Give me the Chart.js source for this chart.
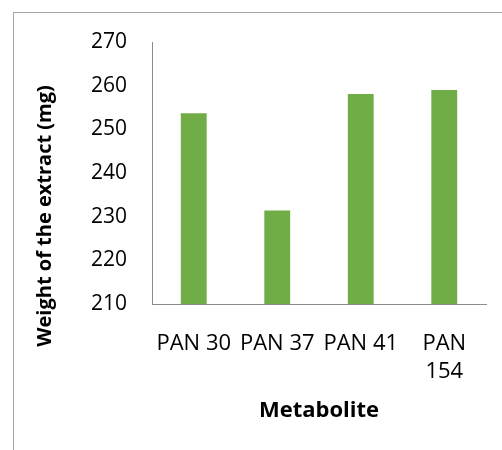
<!DOCTYPE html>
<html>
<head>
<meta charset="utf-8">
<script src="https://cdn.jsdelivr.net/npm/chart.js@4"></script>
<style>
  html, body { margin: 0; padding: 0; background: #fff; }
  #wrap { position: relative; width: 502px; height: 450px; overflow: hidden; }
  #frame { position: absolute; left: 13px; top: 12px; width: 600px; height: 600px;
           border-left: 1px solid #a6a6a6; border-top: 1px solid #a6a6a6; }
  canvas { position: absolute; left: 0; top: 0; }
</style>
</head>
<body>
<div id="wrap">
  <div id="frame"></div>
  <canvas id="chart" width="502" height="450"></canvas>
</div>
<script>
// --- data ---
const categories = [["PAN 30"], ["PAN 37"], ["PAN 41"], ["PAN", "154"]];
const weights = [253.7, 231.4, 258.1, 259.0];
const yTicks = [210, 220, 230, 240, 250, 260, 270];

const yTitle = "Weight of the extract (mg)";
const xTitle = "Metabolite";

const FONT = "'Open Sans', 'DejaVu Sans', sans-serif";

// axis titles drawn by hand so they sit where the original puts them
const axisTitles = {
  id: "axisTitles",
  afterDraw(chart) {
    const { ctx, chartArea } = chart;
    ctx.save();
    ctx.fillStyle = "#000";
    ctx.font = "bold 20px " + FONT;
    ctx.textAlign = "center";
    ctx.textBaseline = "middle";
    ctx.translate(45, 216);
    ctx.rotate(-Math.PI / 2);
    ctx.fillText(yTitle, 0, 0);
    ctx.restore();

    ctx.save();
    ctx.fillStyle = "#000";
    ctx.font = "bold 22px " + FONT;
    ctx.textAlign = "center";
    ctx.textBaseline = "middle";
    ctx.fillText(xTitle, (chartArea.left + chartArea.right) / 2, 411);
    ctx.restore();
  }
};

const ctx = document.getElementById("chart").getContext("2d");
new Chart(ctx, {
  type: "bar",
  data: {
    labels: categories,
    datasets: [{
      data: weights,
      backgroundColor: "#70ad47",
      barPercentage: 0.62,
      categoryPercentage: 0.5
    }]
  },
  options: {
    responsive: false,
    animation: false,
    layout: { padding: { top: 42, right: 16, left: 0, bottom: 0 } },
    plugins: {
      legend: { display: false },
      tooltip: { enabled: false }
    },
    scales: {
      x: {
        grid: { display: false, drawTicks: false },
        border: { display: true, color: "#8c8c8c", width: 1 },
        ticks: {
          color: "#000",
          font: { family: FONT, size: 22, lineHeight: 1.3 },
          padding: 25,
          maxRotation: 0,
          autoSkip: false
        },
        afterFit(scale) { scale.height = 146; }
      },
      y: {
        min: 210,
        max: 270,
        grid: { display: false, drawTicks: false },
        border: { display: true, color: "#8c8c8c", width: 1 },
        afterBuildTicks(scale) { scale.ticks = yTicks.map(v => ({ value: v })); },
        ticks: {
          color: "#000",
          font: { family: FONT, size: 21 },
          padding: 25
        },
        afterFit(scale) { scale.width = 152; }
      }
    }
  },
  plugins: [axisTitles]
});
</script>
</body>
</html>
